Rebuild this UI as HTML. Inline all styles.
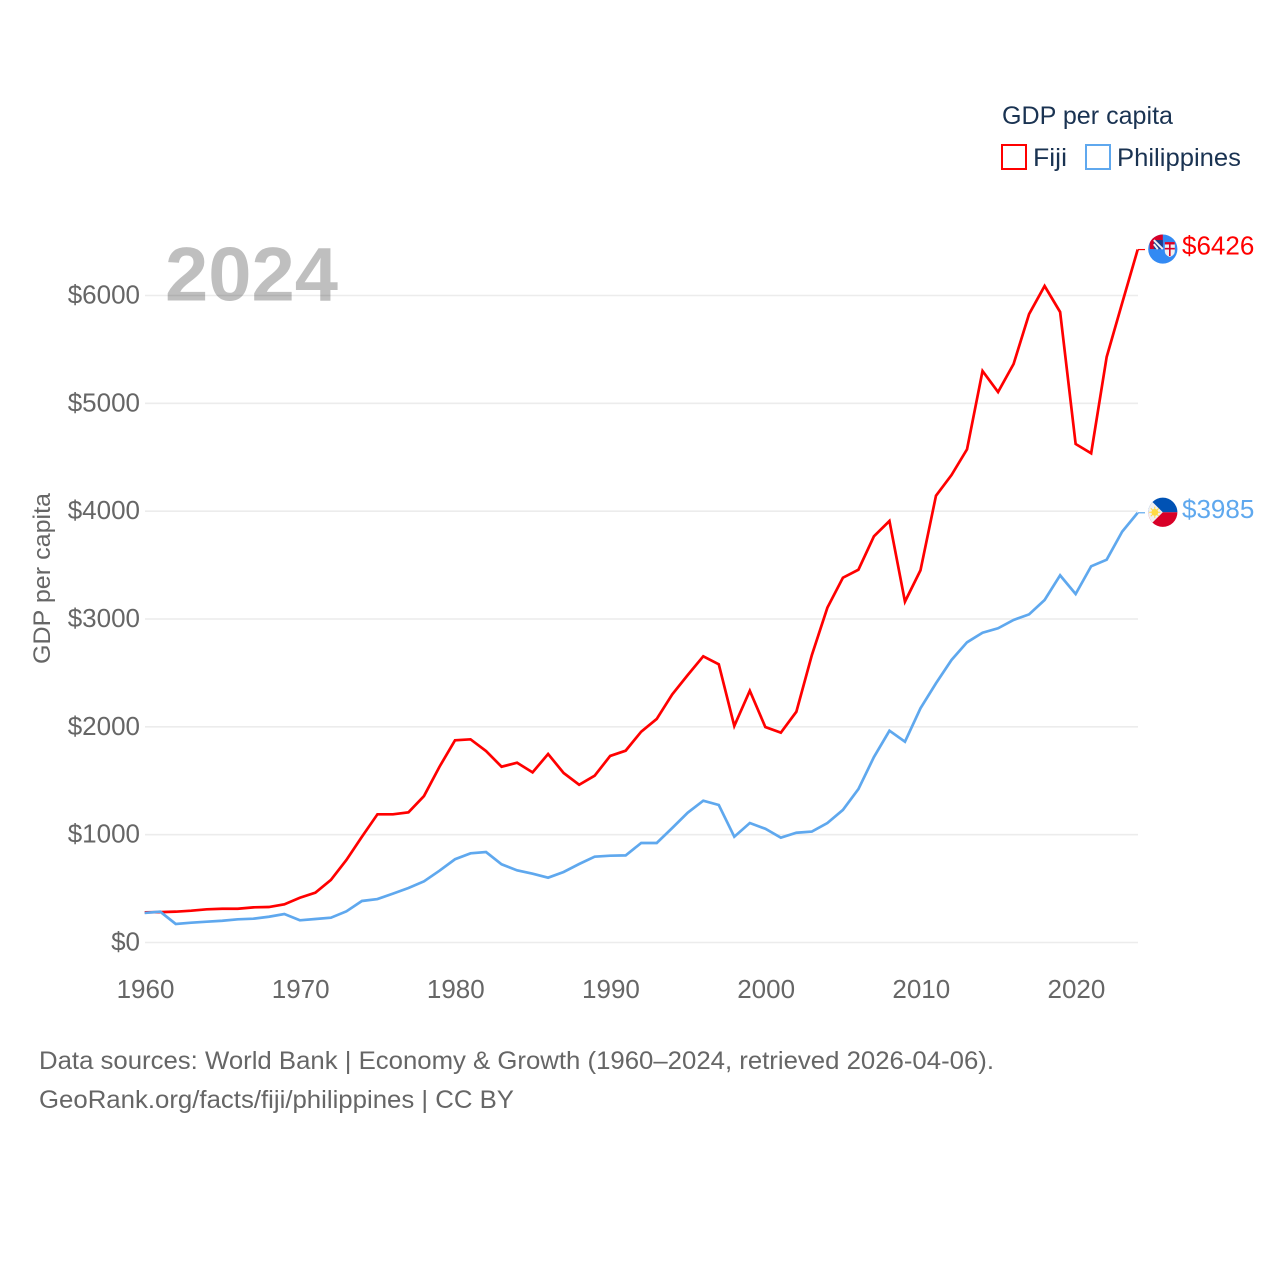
<!DOCTYPE html>
<html lang="en">
<head>
<meta charset="utf-8">
<title>GDP per capita: Fiji and Philippines</title>
<style>
html,body{margin:0;padding:0;background:#fff;}
svg{display:block;}
text{font-family:"Liberation Sans",sans-serif;}
</style>
</head>
<body>
<svg id="chart" xmlns="http://www.w3.org/2000/svg" width="1280" height="1280" viewBox="0 0 1280 1280">
  <rect x="0" y="0" width="1280" height="1280" fill="#ffffff"/>
  <defs>
    <clipPath id="flag-clip"><circle cx="0" cy="0" r="14.6"/></clipPath>
  </defs>
  <g id="grid"></g>
  <g id="y-ticks"></g>
  <g id="x-ticks"></g>
  <text transform="translate(50,578.5) rotate(-90)" text-anchor="middle" font-size="24" fill="#666666" textLength="171" lengthAdjust="spacingAndGlyphs">GDP per capita</text>
  <text x="165" y="300.5" font-size="76" font-weight="700" fill="#000000" fill-opacity="0.25" textLength="173" lengthAdjust="spacingAndGlyphs">2024</text>
  <g id="series"></g>
  <g id="end-labels"></g>

  <g>
    <text x="1002" y="124" font-size="25" fill="#1a3352" textLength="171" lengthAdjust="spacingAndGlyphs">GDP per capita</text>
    <rect x="1002" y="145" width="24" height="24" fill="none" stroke="#ff0000" stroke-width="2"/>
    <text x="1033" y="166" font-size="25" fill="#1a3352" textLength="34" lengthAdjust="spacingAndGlyphs">Fiji</text>
    <rect x="1086" y="145" width="24" height="24" fill="none" stroke="#5fa8ee" stroke-width="2"/>
    <text x="1117" y="166" font-size="25" fill="#1a3352" textLength="124" lengthAdjust="spacingAndGlyphs">Philippines</text>
  </g>

  <g>
    <text x="39" y="1069" font-size="25" fill="#666666" textLength="955" lengthAdjust="spacingAndGlyphs">Data sources: World Bank | Economy &amp; Growth (1960–2024, retrieved 2026-04-06).</text>
    <text x="39" y="1108" font-size="25" fill="#666666" textLength="475" lengthAdjust="spacingAndGlyphs">GeoRank.org/facts/fiji/philippines | CC BY</text>
  </g>
</svg>
<script>
const years = [1960,1961,1962,1963,1964,1965,1966,1967,1968,1969,
  1970,1971,1972,1973,1974,1975,1976,1977,1978,1979,
  1980,1981,1982,1983,1984,1985,1986,1987,1988,1989,
  1990,1991,1992,1993,1994,1995,1996,1997,1998,1999,
  2000,2001,2002,2003,2004,2005,2006,2007,2008,2009,
  2010,2011,2012,2013,2014,2015,2016,2017,2018,2019,
  2020,2021,2022,2023,2024];
const fijiValues = [280,282,286,295,308,313,313,326,329,354,
  415,462,580,765,981,1189,1189,1207,1358,1630,
  1875,1884,1776,1630,1667,1578,1748,1572,1463,1547,
  1730,1779,1955,2073,2301,2481,2654,2580,2008,2335,
  1998,1946,2140,2666,3105,3383,3457,3767,3909,3161,
  3452,4144,4335,4574,5300,5105,5365,5828,6088,5847,
  4623,4537,5430,5930,6426];
const philippinesValues = [274,286,172,184,193,202,215,221,239,264,
  206,218,230,289,385,403,453,505,567,666,
  772,827,839,725,669,638,601,654,728,796,
  805,808,923,923,1062,1204,1315,1275,981,1108,
  1055,972,1018,1029,1108,1229,1423,1720,1964,1862,
  2172,2404,2620,2784,2873,2914,2991,3043,3176,3405,
  3232,3489,3550,3810,3985];
const yTickValues = [0,1000,2000,3000,4000,5000,6000];
const xTickYears = [1960,1970,1980,1990,2000,2010,2020];

const SVG_NS = 'http://www.w3.org/2000/svg';
const xScale = function (year) { return 145 + (year - 1960) * (1138 - 145) / 64; };
const yScale = function (value) { return 942.5 - value * (942.5 - 295.5) / 6000; };

const make = function (tag, parent) {
  const el = document.createElementNS(SVG_NS, tag);
  parent.appendChild(el);
  return el;
};

const gridGroup = document.getElementById('grid');
const yTickGroup = document.getElementById('y-ticks');
yTickValues.forEach(function (v) {
  const line = make('line', gridGroup);
  
  
  line.setAttribute('x1', xScale(1960));
  line.setAttribute('x2', xScale(2024));
  line.setAttribute('y1', yScale(v));
  line.setAttribute('y2', yScale(v));
  line.setAttribute('stroke', '#ececec');
  line.setAttribute('stroke-width', '1.6');
  const label = make('text', yTickGroup);
  
  
  label.setAttribute('x', 140);
  label.setAttribute('y', yScale(v) + 8);
  label.setAttribute('text-anchor', 'end');
  label.setAttribute('font-size', '26');
  label.setAttribute('fill', '#666666');
  label.textContent = '$' + v;
});

const xTickGroup = document.getElementById('x-ticks');
xTickYears.forEach(function (y) {
  const label = make('text', xTickGroup);
  
  
  label.setAttribute('x', xScale(y) + 0.5);
  label.setAttribute('y', 998);
  label.setAttribute('text-anchor', 'middle');
  label.setAttribute('font-size', '26');
  label.setAttribute('fill', '#666666');
  label.textContent = String(y);
});

const seriesGroup = document.getElementById('series');
const endGroup = document.getElementById('end-labels');

const drawSeries = function (values, color) {
  const pts = values.map(function (v, i) { return (xScale(years[i]) - 0.3).toFixed(2) + ',' + yScale(v).toFixed(2); });
  const path = make('polyline', seriesGroup);
  
  
  path.setAttribute('points', pts.join(' '));
  path.setAttribute('fill', 'none');
  path.setAttribute('stroke', color);
  path.setAttribute('stroke-width', '2.7');
  path.setAttribute('stroke-linejoin', 'miter');
};

const drawEnd = function (values, color, drawFlag, flagName, labelName, leaderName) {
  const last = values[values.length - 1];
  const ex = xScale(2024);
  const ey = yScale(last);
  const leader = make('line', endGroup);
  
  
  leader.setAttribute('x1', ex);
  leader.setAttribute('x2', ex + 7);
  leader.setAttribute('y1', ey);
  leader.setAttribute('y2', ey);
  leader.setAttribute('stroke', color);
  leader.setAttribute('stroke-width', '1.2');
  const flag = make('g', endGroup);
  
  
  flag.setAttribute('transform', 'translate(1162.8,' + (ey - 0.5) + ')');
  flag.setAttribute('clip-path', 'url(#flag-clip)');
  drawFlag(flag);
  const label = make('text', endGroup);
  
  
  label.setAttribute('x', 1182);
  label.setAttribute('y', ey + 5);
  label.setAttribute('font-size', '26');
  label.setAttribute('fill', color);
  label.textContent = '$' + last;
};

const shape = function (parent, tag, attrs) {
  const el = make(tag, parent);
  Object.keys(attrs).forEach(function (k) { el.setAttribute(k, attrs[k]); });
  return el;
};

const fijiFlag = function (g) {
  shape(g, 'rect', {x:-16, y:-16, width:32, height:32, fill:'#338af3'});
  shape(g, 'rect', {x:-13, y:-14.6, width:13, height:14.6, fill:'#d80027'});
  shape(g, 'rect', {x:-9, y:-9, width:9, height:9, fill:'#1a3f8f'});
  shape(g, 'path', {d:'M-9 -9L0 0M-9 -5L-5 0', stroke:'#f0f0f0', 'stroke-width':'2', fill:'none'});
  shape(g, 'path', {d:'M2 -7H12V2Q12 6 7 8Q2 6 2 2Z', fill:'#f0f0f0'});
  shape(g, 'rect', {x:2, y:-7, width:10, height:2.4, fill:'#d80027'});
  shape(g, 'rect', {x:6.2, y:-5, width:1.6, height:12, fill:'#d80027'});
  shape(g, 'rect', {x:2, y:-1.2, width:10, height:1.6, fill:'#d80027'});
};

const philippinesFlag = function (g) {
  shape(g, 'rect', {x:-16, y:-16, width:32, height:16, fill:'#0052b4'});
  shape(g, 'rect', {x:-16, y:0, width:32, height:16, fill:'#d80027'});
  shape(g, 'path', {d:'M-15 -15L0 0L-15 15Z', fill:'#f0f0f0'});
  shape(g, 'circle', {cx:-8, cy:0, r:3.4, fill:'#ffda44'});
  shape(g, 'path', {d:'M-8 -5.6V5.6M-13.6 0H-2.4M-12 -4L-4 4M-12 4L-4 -4', stroke:'#ffda44', 'stroke-width':'1', fill:'none'});
};

drawSeries(fijiValues, '#ff0000');
drawSeries(philippinesValues, '#5fa8ee');
drawEnd(fijiValues, '#ff0000', fijiFlag, 'flag-fiji', 'end-value-fiji', 'leader-fiji');
drawEnd(philippinesValues, '#5fa8ee', philippinesFlag, 'flag-philippines', 'end-value-philippines', 'leader-philippines');
</script>
</body>
</html>
